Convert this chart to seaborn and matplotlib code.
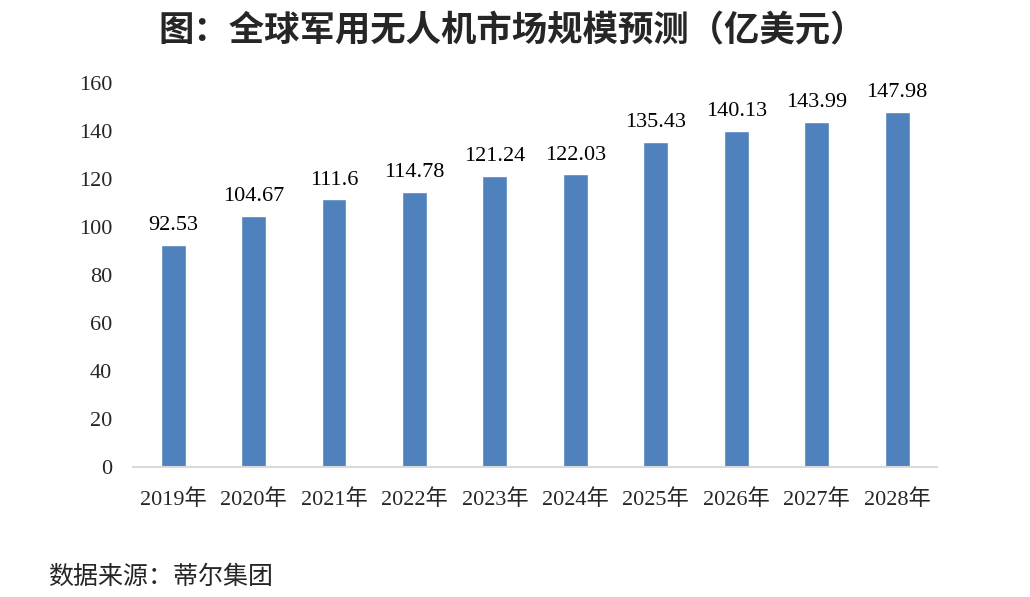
import matplotlib
matplotlib.use("Agg")
import matplotlib.pyplot as plt
import seaborn as sns
import pandas as pd

# data
years = ['2019年', '2020年', '2021年', '2022年', '2023年',
         '2024年', '2025年', '2026年', '2027年', '2028年']
market_size = [92.53, 104.67, 111.6, 114.78, 121.24,
               122.03, 135.43, 140.13, 143.99, 147.98]
value_labels = ['92.53', '104.67', '111.6', '114.78', '121.24',
                '122.03', '135.43', '140.13', '143.99', '147.98']
y_ticks = [0, 20, 40, 60, 80, 100, 120, 140, 160]

df = pd.DataFrame({'year': years, 'value': market_size})

sns.set_theme(style='white')
serif = ['Liberation Serif', 'Noto Sans CJK SC']
plt.rcParams['font.family'] = serif

fig = plt.figure(figsize=(10.3, 5.97), dpi=100)
ax = fig.add_axes([0.129, 0.2178, 0.781, 0.643])

sns.barplot(data=df, x='year', y='value', color='#4F81BD',
            saturation=1, width=0.31, ax=ax)

for i, (v, lab) in enumerate(zip(market_size, value_labels)):
    ax.text(i, v + 4, lab, ha='center', va='bottom', fontsize=16,
            color='#000000', family=serif)

ax.set_xlim(-0.5, len(years) - 0.5)
ax.set_ylim(0, 160)
ax.set_yticks(y_ticks)
ax.set_yticklabels([str(t) for t in y_ticks], fontsize=16, family=serif)
ax.tick_params(axis='x', labelsize=16, length=0, pad=16)
ax.tick_params(axis='y', length=0, pad=15)
for lab in ax.get_xticklabels():
    lab.set_family(serif)
ax.set_xlabel('')
ax.set_ylabel('')

for s in ['top', 'right', 'left']:
    ax.spines[s].set_visible(False)
ax.spines['bottom'].set_color('#D9D9D9')
ax.spines['bottom'].set_linewidth(1.5)

fig.text(0.497, 0.948, '图：全球军用无人机市场规模预测（亿美元）',
         ha='center', va='center', fontsize=25.5, fontweight='bold',
         family=['Noto Sans CJK SC', 'DejaVu Sans'])
fig.text(0.047, 0.033, '数据来源：蒂尔集团', ha='left', va='center',
         fontsize=18, family=['Noto Sans CJK SC', 'DejaVu Sans'])

fig.savefig('out.png', dpi=100)
plt.close(fig)
